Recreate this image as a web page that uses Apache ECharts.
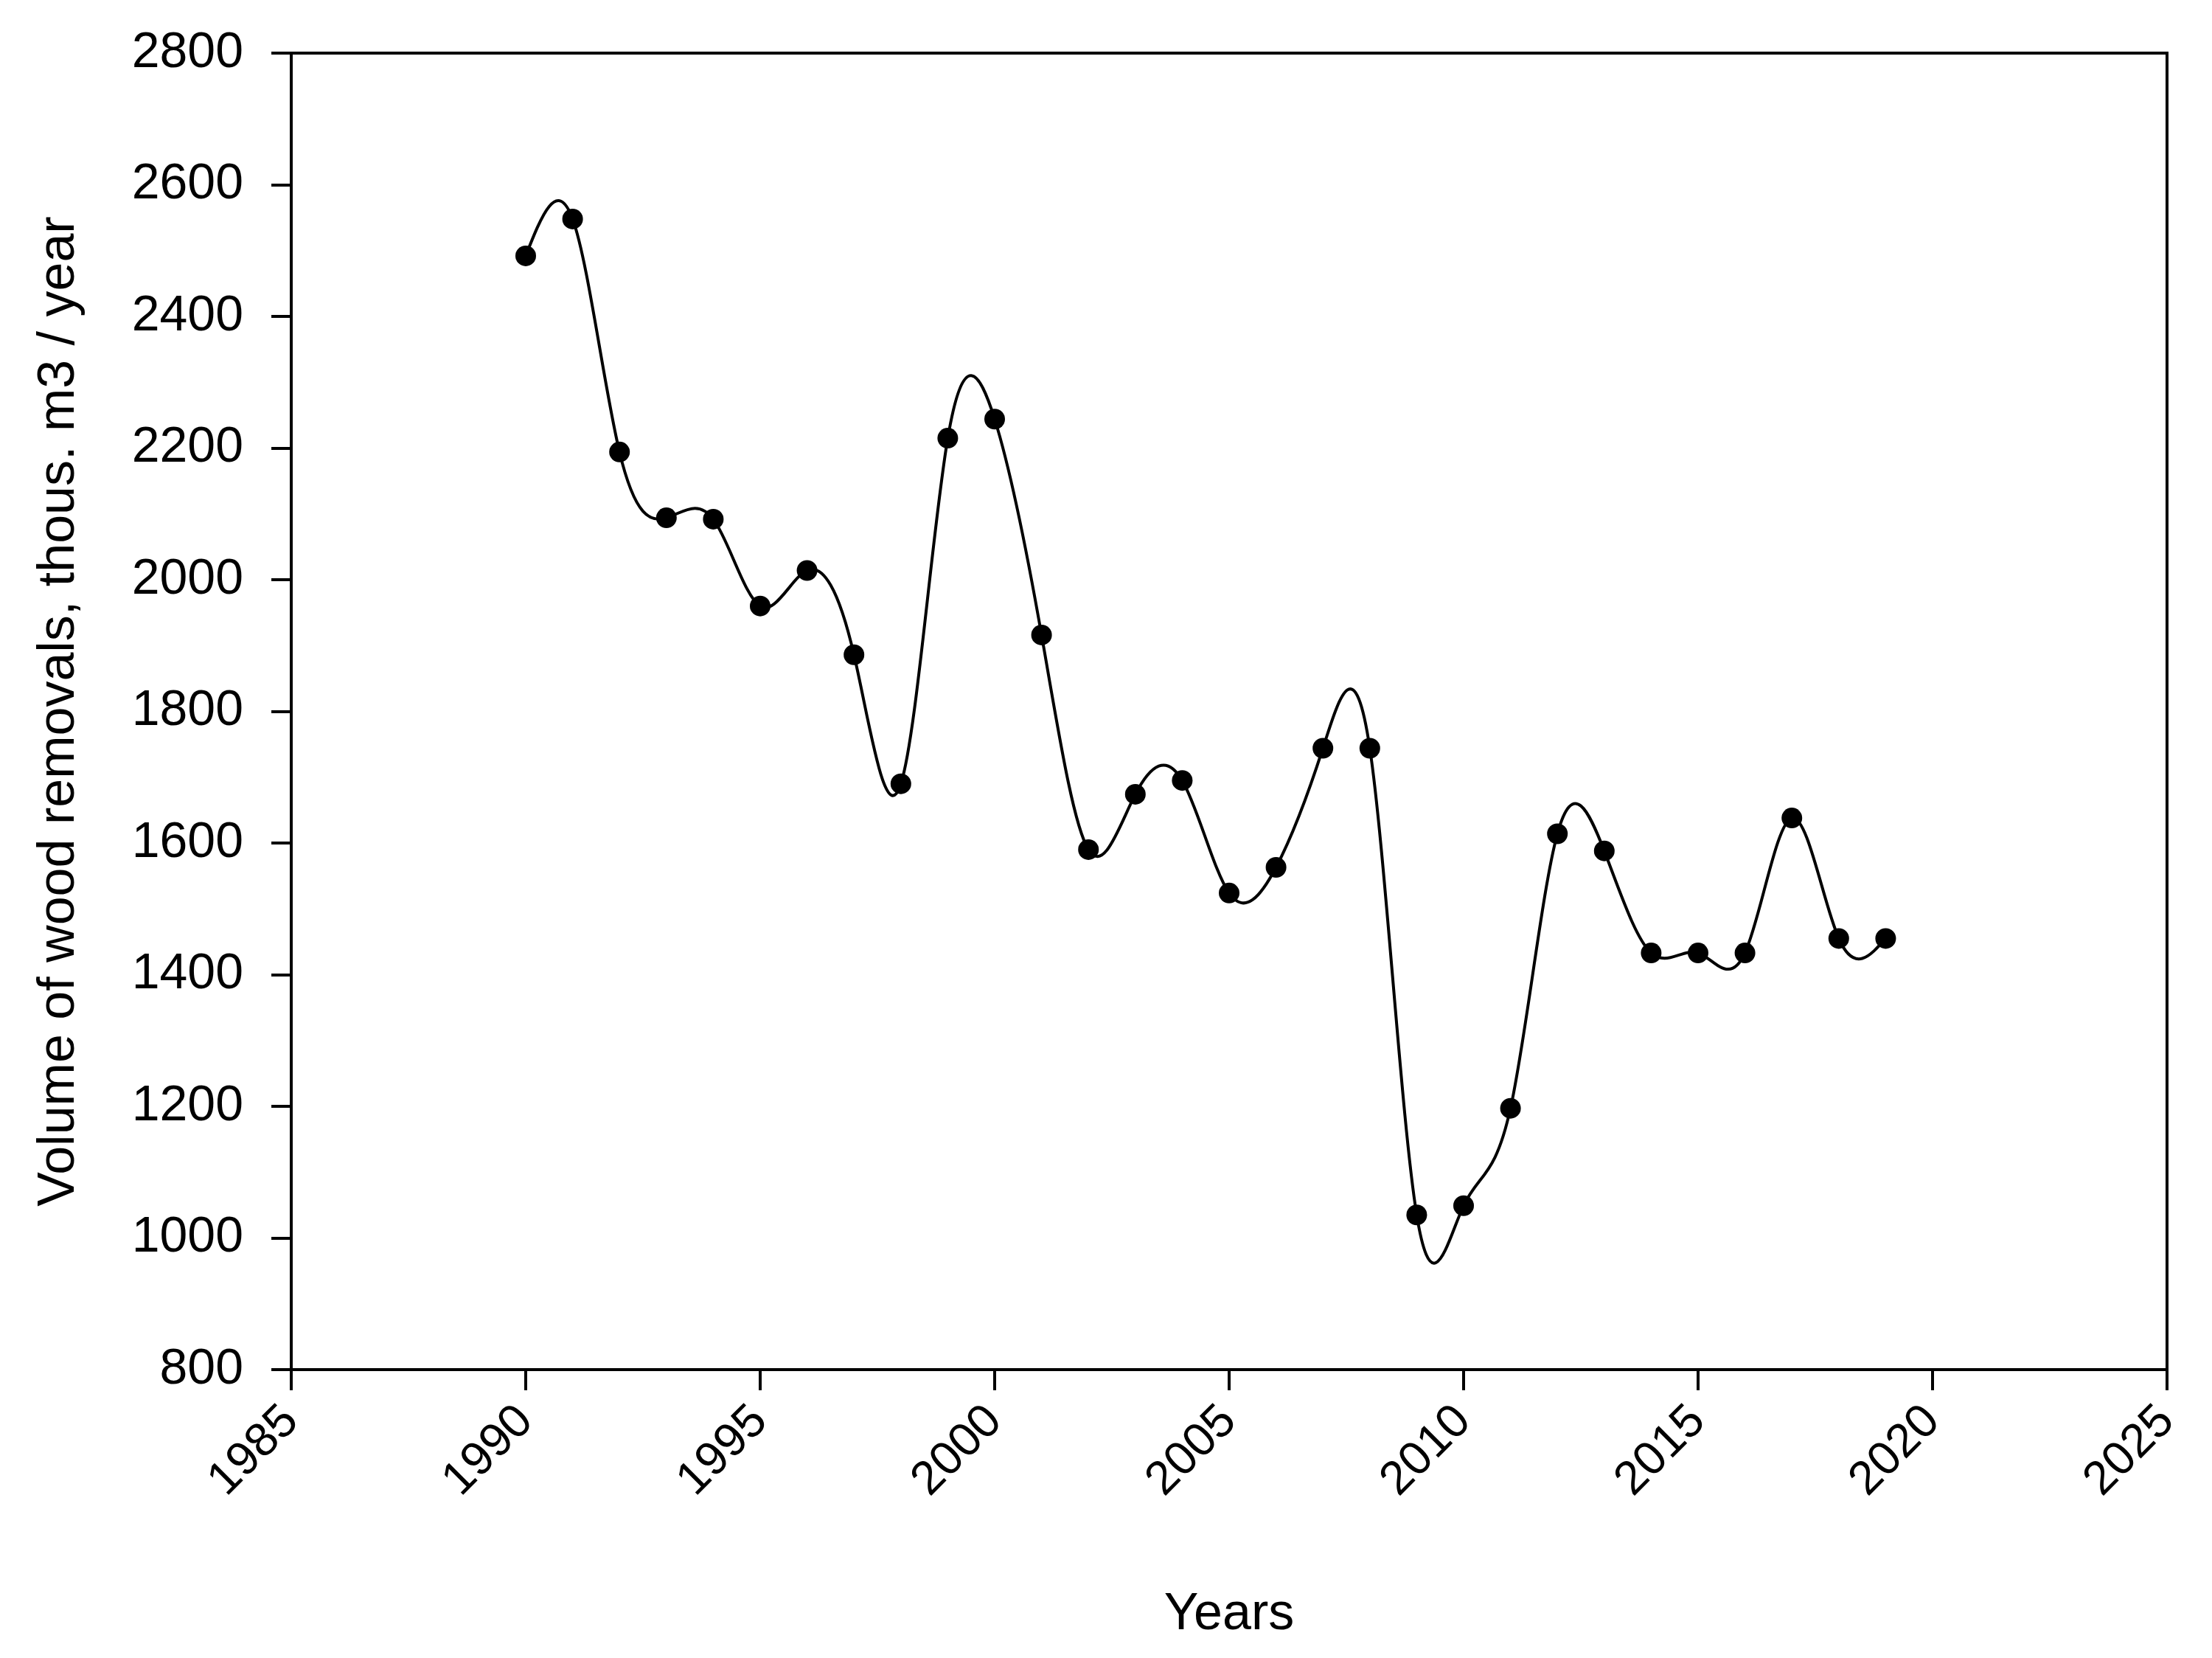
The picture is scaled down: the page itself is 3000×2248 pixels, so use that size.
<!DOCTYPE html>
<html>
<head>
<meta charset="utf-8">
<script src="https://cdn.jsdelivr.net/npm/echarts@6/dist/echarts.min.js"></script>
<style>
  html, body { margin: 0; padding: 0; background: #fff; }
  #chart { width: 3000px; height: 2248px; }
</style>
</head>
<body>
<div id="chart"></div>
<script>
// values
var years = [1990, 1991, 1992, 1993, 1994, 1995, 1996, 1997, 1998, 1999,
  2000, 2001, 2002, 2003, 2004, 2005, 2006, 2007, 2008, 2009,
  2010, 2011, 2012, 2013, 2014, 2015, 2016, 2017, 2018, 2019];
var removals = [2492, 2548, 2194, 2094, 2092, 1960, 2014, 1886, 1690, 2215,
  2244, 1916, 1590, 1674, 1695, 1524, 1563, 1744, 1744, 1035,
  1049, 1197, 1614, 1588, 1433, 1433, 1433, 1638, 1455, 1455];
var xTicks = { min: 1985, max: 2025, step: 5 };
var yTicks = { min: 800, max: 2800, step: 200 };

var font = 'Liberation Sans, Arial, sans-serif';
var myChart = echarts.init(document.getElementById('chart'));

var points = years.map(function (y, i) {
  return [y, removals[i]];
});

// natural cubic spline through the points, turned into bezier segments
// (control points in data space, mapped through the axes at render time)
function splineSegments(xs, ys) {
  var n = xs.length - 1;
  var h = [];
  var i;
  for (i = 0; i < n; i++) {
    h.push(xs[i + 1] - xs[i]);
  }
  var a = [], b = [], c = [], d = [];
  for (i = 1; i < n; i++) {
    a.push(h[i - 1]);
    b.push(2 * (h[i - 1] + h[i]));
    c.push(h[i]);
    d.push(6 * ((ys[i + 1] - ys[i]) / h[i] - (ys[i] - ys[i - 1]) / h[i - 1]));
  }
  // thomas algorithm
  var m = d.length;
  for (i = 1; i < m; i++) {
    var w = a[i] / b[i - 1];
    b[i] -= w * c[i - 1];
    d[i] -= w * d[i - 1];
  }
  var inner = new Array(m);
  for (i = m - 1; i >= 0; i--) {
    inner[i] = (d[i] - (i < m - 1 ? c[i] * inner[i + 1] : 0)) / b[i];
  }
  var M = [0].concat(inner, [0]);

  var segs = [];
  for (i = 0; i < n; i++) {
    var slope = (ys[i + 1] - ys[i]) / h[i];
    var s0 = slope - h[i] * (2 * M[i] + M[i + 1]) / 6;
    var s1 = slope + h[i] * (M[i] + 2 * M[i + 1]) / 6;
    segs.push([
      [xs[i], ys[i]],
      [xs[i] + h[i] / 3, ys[i] + s0 * h[i] / 3],
      [xs[i + 1] - h[i] / 3, ys[i + 1] - s1 * h[i] / 3],
      [xs[i + 1], ys[i + 1]]
    ]);
  }
  return segs;
}

var segments = splineSegments(years, removals);

function renderSegment(params, api) {
  var seg = segments[params.dataIndex];
  if (!seg) {
    return null;
  }
  var p0 = api.coord(seg[0]);
  var p1 = api.coord(seg[1]);
  var p2 = api.coord(seg[2]);
  var p3 = api.coord(seg[3]);
  return {
    type: 'bezierCurve',
    shape: {
      x1: p0[0], y1: p0[1],
      cpx1: p1[0], cpy1: p1[1],
      cpx2: p2[0], cpy2: p2[1],
      x2: p3[0], y2: p3[1]
    },
    style: { stroke: '#000', lineWidth: 4, fill: 'none' }
  };
}

var option = {
  backgroundColor: '#fff',
  animation: false,
  grid: {
    left: 395,
    right: 61,
    top: 72,
    bottom: 391,
    show: true,
    borderColor: '#000',
    borderWidth: 4
  },
  xAxis: {
    type: 'value',
    min: xTicks.min,
    max: xTicks.max,
    interval: xTicks.step,
    name: 'Years',
    nameLocation: 'middle',
    nameGap: 298,
    nameTextStyle: { fontFamily: font, fontSize: 70, color: '#000' },
    axisLine: { show: true, lineStyle: { color: '#000', width: 4 } },
    axisTick: { show: true, length: 28, lineStyle: { color: '#000', width: 4 } },
    axisLabel: {
      rotate: 45,
      margin: 60,
      padding: [30, 0, 0, 0],
      fontFamily: font,
      fontSize: 64,
      color: '#000',
      formatter: function (v) { return String(v); }
    },
    splitLine: { show: false }
  },
  yAxis: {
    type: 'value',
    min: yTicks.min,
    max: yTicks.max,
    interval: yTicks.step,
    name: 'Volume of wood removals, thous. m3 / year',
    nameLocation: 'middle',
    nameGap: 279,
    nameTextStyle: { fontFamily: font, fontSize: 70, color: '#000' },
    axisLine: { show: true, lineStyle: { color: '#000', width: 4 } },
    axisTick: { show: true, length: 27, lineStyle: { color: '#000', width: 4 } },
    axisLabel: {
      margin: 65,
      fontFamily: font,
      fontSize: 68,
      color: '#000',
      formatter: function (v) { return String(v); }
    },
    splitLine: { show: false }
  },
  series: [
    {
      name: 'Spline',
      type: 'custom',
      renderItem: renderSegment,
      data: points,
      encode: { x: 0, y: 1 },
      silent: true,
      z: 2
    },
    {
      name: 'Removals',
      type: 'scatter',
      data: points,
      symbol: 'circle',
      symbolSize: 28,
      itemStyle: { color: '#000', opacity: 1 },
      z: 3
    }
  ]
};

myChart.setOption(option);
</script>
</body>
</html>
